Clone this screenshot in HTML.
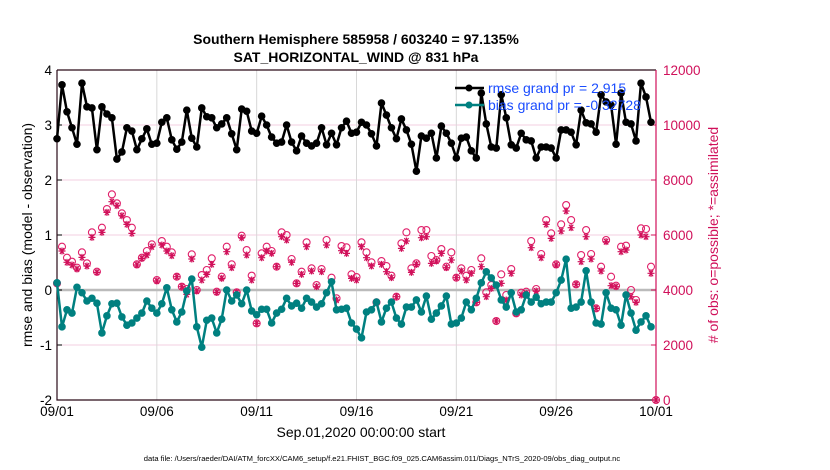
<!DOCTYPE html>
<html><head><meta charset="utf-8"><style>
body{margin:0;background:#fff;}
svg{display:block;font-family:"Liberation Sans",sans-serif;}
</style></head><body>
<svg id="chart" width="830" height="470" viewBox="0 0 830 470">
<text x="356" y="44" text-anchor="middle" font-size="14" font-weight="bold">Southern Hemisphere 585958 / 603240 = 97.135%</text>
<text x="356" y="62" text-anchor="middle" font-size="14" font-weight="bold">SAT_HORIZONTAL_WIND @ 831 hPa</text>
<g id="grid"></g>
<g id="axes"></g>
<g id="marks"></g>
<g id="legend">
<line x1="455" y1="88" x2="484" y2="88" stroke="#000" stroke-width="2.5"/>
<circle cx="469" cy="88" r="3.5" fill="#000"/>
<text x="488" y="93" font-size="14" fill="#1a4cff">rmse grand pr = 2.915</text>
<line x1="455" y1="105" x2="484" y2="105" stroke="#008080" stroke-width="2.5"/>
<circle cx="469" cy="105" r="3.5" fill="#008080"/>
<text x="488" y="110" font-size="14" fill="#1a4cff">bias grand pr = -0.32728</text>
</g>
<text transform="translate(32,235) rotate(-90)" text-anchor="middle" font-size="14">rmse and bias (model - observation)</text>
<text transform="translate(718,235) rotate(-90)" text-anchor="middle" font-size="14" fill="#d0105a"># of obs: o=possible; *=assimilated</text>
<text x="361" y="437" text-anchor="middle" font-size="14">Sep.01,2020 00:00:00 start</text>
<text x="382" y="461" text-anchor="middle" font-size="7.6">data file: /Users/raeder/DAI/ATM_forcXX/CAM6_setup/f.e21.FHIST_BGC.f09_025.CAM6assim.011/Diags_NTrS_2020-09/obs_diag_output.nc</text>
</svg>
<script>
const xTickLabels=["09/01","09/06","09/11","09/16","09/21","09/26","10/01"];
const leftTicks=[4,3,2,1,0,-1,-2];
const rightTicks=[12000,10000,8000,6000,4000,2000,0];
const rmse=[2.75,3.73,3.24,2.95,2.65,3.76,3.33,3.31,2.55,3.33,3.20,3.13,2.38,2.51,2.95,2.89,2.55,2.75,2.93,2.65,2.67,3.05,3.13,2.73,2.56,2.69,3.27,2.76,2.60,3.31,3.15,3.13,2.95,3.02,3.13,2.84,2.55,3.29,3.25,2.89,2.85,
3.16,3.00,2.78,2.67,2.69,3.00,2.69,2.53,2.80,2.67,2.62,2.67,2.95,2.64,2.85,2.64,2.95,3.07,2.85,2.87,3.05,3.00,2.84,2.62,3.40,3.18,2.95,2.75,3.11,2.91,2.65,2.16,2.80,2.76,2.85,2.40,2.98,2.85,2.67,
2.40,2.76,2.78,2.53,2.40,3.58,3.02,2.60,2.58,3.55,3.13,2.64,2.58,2.85,2.73,2.71,2.40,2.60,2.60,2.58,2.40,2.91,2.91,2.87,2.64,3.27,3.04,3.02,2.87,3.55,3.42,3.36,2.65,3.58,3.05,3.02,2.71,3.76,3.51,3.05];
const bias=[0.13,-0.67,-0.36,-0.42,0.05,-0.05,-0.2,-0.15,-0.24,-0.78,-0.47,-0.25,-0.24,-0.49,-0.64,-0.6,-0.51,-0.42,-0.2,-0.33,-0.42,-0.25,0.04,-0.36,-0.58,-0.4,-0.02,0.2,-0.67,-1.04,-0.55,-0.51,-0.78,-0.53,0,-0.2,-0.09,-0.25,0,-0.38,-0.45,
-0.35,-0.35,-0.6,-0.42,-0.35,-0.15,-0.29,-0.24,-0.33,-0.15,-0.22,-0.31,-0.25,-0.05,0.15,-0.36,-0.35,-0.33,-0.6,-0.71,-0.87,-0.4,-0.36,-0.22,-0.58,-0.33,-0.22,-0.51,-0.62,-0.31,-0.31,-0.18,-0.4,-0.11,-0.53,-0.42,-0.29,-0.11,-0.62,
-0.6,-0.51,-0.22,-0.36,-0.15,0.13,0.33,0.22,0.09,-0.18,-0.31,-0.05,-0.4,-0.36,-0.09,-0.22,-0.13,-0.25,-0.22,-0.22,-0.05,0.18,0.56,-0.33,-0.31,-0.22,0.35,-0.22,-0.6,-0.62,-0.05,-0.33,-0.36,-0.64,-0.09,-0.42,-0.73,-0.58,-0.47,-0.67];
const possible=[4242,5575,5175,5030,4812,5369,4969,6096,4666,6266,6945,7478,7151,6787,6545,6266,4933,5175,5418,5660,4363,5781,5575,5369,4484,4121,4036,5296,4000,4545,4727,5151,3939,4484,5575,4933,3915,5975,5454,4521,2788,
5333,5575,5418,4848,6096,5999,5127,4242,4666,5733,4787,4181,4763,5818,4448,3697,5599,5551,4569,4472,5733,5369,5006,3551,5054,4872,4521,3757,5696,6096,4787,4969,6181,6181,5236,5090,5490,4848,5369,
4448,4787,4521,4727,3551,5151,3915,4181,2872,4569,3818,4763,3151,3903,3939,5781,4036,5309,6545,6060,4933,6387,7090,6545,4206,5272,6181,5309,3333,4848,5818,4484,4157,5575,5612,4000,3636,6242,6218,4848,0];
const assimilated=[4242,5418,5006,4909,4763,5187,4872,5915,4642,6096,6824,7211,7066,6702,6387,6060,4909,5151,5272,5575,4327,5636,5418,5248,4484,4121,3842,5127,3963,4363,4569,4933,3915,4424,5393,4812,3915,5902,5272,4363,2788,
5175,5418,5333,4848,5939,5818,5006,4242,4569,5575,4690,4121,4666,5636,4303,3636,5430,5333,4424,4363,5575,5175,4872,3551,4933,4666,4448,3757,5515,5781,4642,4933,5902,5939,4969,5054,5333,4812,5090,
4448,4690,4363,4606,3551,4848,3757,4060,2872,4242,3636,4606,3151,3818,3878,5539,3963,5175,6387,5878,4909,6145,6872,6266,4206,5030,5939,5127,3333,4690,5757,4157,4121,5393,5454,3757,3551,5999,5939,4606,0];

const NS='http://www.w3.org/2000/svg';
const X0=57,X1=656,Y0=70,Y1=400,DAYS=30;
const xDay=d=>X0+(X1-X0)*d/DAYS;
const yL=v=>Y1-(v+2)/6*(Y1-Y0);
const yR=v=>Y1-v/12000*(Y1-Y0);
function mk(tag,attrs,parent){const e=document.createElementNS(NS,tag);for(const k in attrs)e.setAttribute(k,attrs[k]);parent.appendChild(e);return e;}
const grid=document.getElementById('grid'),axes=document.getElementById('axes'),marks=document.getElementById('marks');
leftTicks.forEach(v=>{
 const y=yL(v);
 const gl=mk('line',{x1:X0,x2:X1,y1:y,y2:y,stroke:'#f3cfe0','stroke-width':1},grid);
 
 
 const t=mk('text',{x:X0-5,y:y+5,'text-anchor':'end','font-size':13.5},axes);
 t.textContent=v;
 
 
 const tk=mk('line',{x1:X0,x2:X0+5,y1:y,y2:y,stroke:'#000'},axes);
 
 
});
rightTicks.forEach(v=>{
 const y=yR(v);
 const t=mk('text',{x:X1+7,y:y+5,'font-size':13.5,fill:'#d0105a'},axes);
 t.textContent=v;
 
 
 const tk=mk('line',{x1:X1-5,x2:X1,y1:y,y2:y,stroke:'#d0105a'},axes);
 
 
});
xTickLabels.forEach((lab,i)=>{
 const x=xDay(i*5);
 if(i>0&&i<xTickLabels.length-1){
  const gl=mk('line',{x1:x,x2:x,y1:Y0,y2:Y1,stroke:'#d8d8d8','stroke-width':1},grid);
  
  
 }
 const t=mk('text',{x:x,y:Y1+16,'text-anchor':'middle','font-size':13.5},axes);
 t.textContent=lab;
 
 
});
const zl=mk('line',{x1:X0,x2:X1,y1:yL(0),y2:yL(0),stroke:'#bbb','stroke-width':2.5},grid);


const frame=mk('path',{d:`M${X0},${Y0}H${X1}M${X0},${Y0}V${Y1}H${X1}`,stroke:'#2a0a18',fill:'none','stroke-width':1.2},axes);


const ra=mk('line',{x1:X1,x2:X1,y1:Y0,y2:Y1,stroke:'#d0105a','stroke-width':1.2},axes);



const xi=i=>xDay(i*0.25);
possible.forEach((v,i)=>{
 const c=mk('circle',{cx:xi(i),cy:yR(v),r:3.5,fill:'none',stroke:'#e0206a','stroke-width':1.1},marks);
 
 
});
assimilated.forEach((v,i)=>{
 const x=xi(i),y=yR(v),s=3.5;
 const d=`M${x-s},${y}H${x+s}M${x-s*0.6},${y-s*0.85}L${x+s*0.6},${y+s*0.85}M${x+s*0.6},${y-s*0.85}L${x-s*0.6},${y+s*0.85}M${x},${y-s}V${y+s}`;
 const p=mk('path',{d:d,stroke:'#d0105a','stroke-width':1.2,fill:'none'},marks);
 
 
});
function series(vals,color,name){
 const d=vals.map((v,i)=>(i?'L':'M')+xi(i).toFixed(1)+','+yL(v).toFixed(1)).join('');
 const p=mk('path',{d:d,fill:'none',stroke:color,'stroke-width':2.5,'stroke-linejoin':'round'},marks);
 
 
 vals.forEach((v,i)=>{
  const c=mk('circle',{cx:xi(i),cy:yL(v),r:3.8,fill:color},marks);
  
  
 });
}
series(bias,'#008080','bias');
series(rmse,'#000000','rmse');
</script>
</body></html>
